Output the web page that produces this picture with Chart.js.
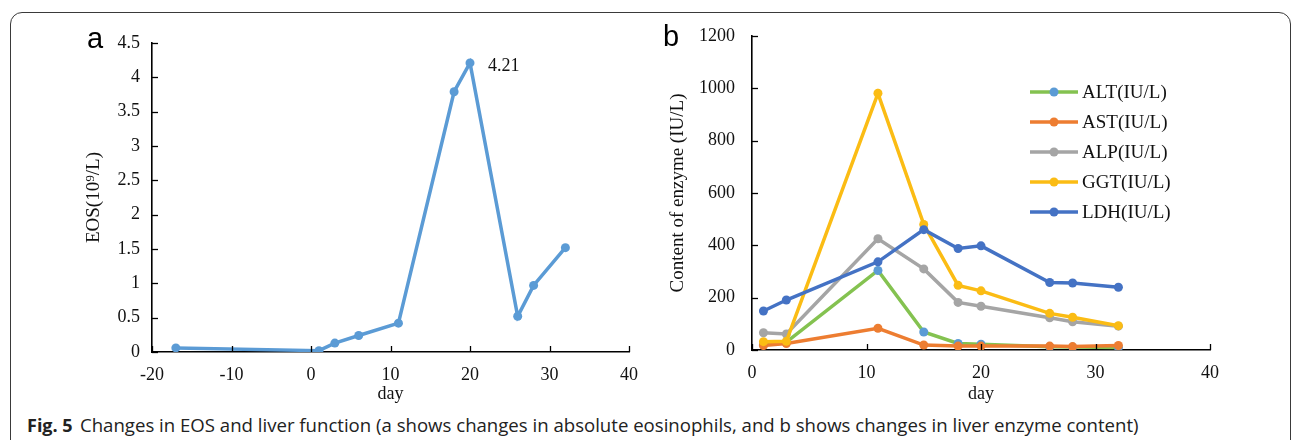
<!DOCTYPE html>
<html>
<head>
<meta charset="utf-8">
<script src="https://cdn.jsdelivr.net/npm/chart.js@4.4.0/dist/chart.umd.min.js"></script>
<style>
    body { margin: 0; background: #fff; width: 1293px; height: 440px; overflow: hidden; position: relative; }
    #frame { position: absolute; left: 10px; top: 12px; width: 1279px; height: 470px; border: 1px solid #3a3a3a; border-radius: 12px; }
    canvas { position: absolute; top: 0; }
    #grafA { left: 0; }
    #grafB { left: 650px; }
    .letra { position: absolute; font-family: 'Liberation Sans', sans-serif; font-size: 29px; line-height: 1; }
    #cap { position: absolute; left: 27px; top: 413px; white-space: nowrap; font-family: 'Liberation Sans Narrow', 'Open Sans', sans-serif; font-size: 18px; color: #222; }
    #cap b { margin-right: 7px; }
</style>
</head>
<body>
<div id="frame"></div>
<canvas id="grafA" width="650" height="410"></canvas>
<canvas id="grafB" width="643" height="410"></canvas>
<div class="letra" style="left:87px;top:24px">a</div>
<div class="letra" style="left:663px;top:22px">b</div>
<div id="cap"><b>Fig. 5</b><span id="capTxt">Changes in EOS and liver function (a shows changes in absolute eosinophils, and b shows changes in liver enzyme content)</span></div>

<script>
// panel a: eosinophils
const eosDias = [-17, 1, 3, 6, 11, 18, 20, 26, 28, 32];
const eosValores = [0.06, 0.02, 0.13, 0.24, 0.42, 3.79, 4.21, 0.52, 0.97, 1.52];
const eosTicksY = ['0', '0.5', '1', '1.5', '2', '2.5', '3', '3.5', '4', '4.5'];
const eosTicksX = ['-20', '-10', '0', '10', '20', '30', '40'];

// panel b: liver enzymes
const enzDias = [1, 3, 11, 15, 18, 20, 26, 28, 32];
const altValores = [20, 30, 304, 69, 25, 22, 12, 11, 10];
const astValores = [17, 25, 83, 19, 15, 15, 15, 13, 17];
const alpValores = [66, 61, 425, 310, 182, 167, 123, 108, 91];
const ggtValores = [32, 33, 981, 480, 247, 226, 140, 125, 93];
const ldhValores = [149, 191, 337, 460, 388, 398, 258, 256, 240];
const enzNombres = ['ALT(IU/L)', 'AST(IU/L)', 'ALP(IU/L)', 'GGT(IU/L)', 'LDH(IU/L)'];
const enzTicksY = ['0', '200', '400', '600', '800', '1000', '1200'];
const enzTicksX = ['0', '10', '20', '30', '40'];

const serif = 'Liberation Serif';

function puntos(xs, ys) {
    return xs.map((x, i) => ({ x: x, y: ys[i] }));
}

// Excel-style tick marks pointing into the plot
const ticksDentro = {
    id: 'ticksDentro',
    afterDraw(chart) {
        const ctx = chart.ctx;
        const area = chart.chartArea;
        ctx.save();
        ctx.strokeStyle = '#000';
        ctx.lineWidth = 1.3;
        const sx = chart.scales.x;
        sx.ticks.forEach(t => {
            const px = Math.round(sx.getPixelForValue(t.value)) + 0.5;
            ctx.beginPath();
            ctx.moveTo(px, area.bottom);
            ctx.lineTo(px, area.bottom - 6);
            ctx.stroke();
        });
        const sy = chart.scales.y;
        sy.ticks.forEach(t => {
            const py = Math.round(sy.getPixelForValue(t.value)) + 0.5;
            ctx.beginPath();
            ctx.moveTo(area.left, py);
            ctx.lineTo(area.left + 6, py);
            ctx.stroke();
        });
        ctx.restore();
    }
};

function ejes(minX, maxX, pasoX, ticksX, minY, maxY, pasoY, ticksY, tituloY, anchoY, altoX, padY) {
    return {
        x: {
            type: 'linear', min: minX, max: maxX,
            afterFit: s => { s.height = altoX; },
            grid: { display: false, drawTicks: false },
            border: { color: '#000', width: 1.6 },
            ticks: {
                stepSize: pasoX, padding: 12, color: '#111',
                font: { family: serif, size: 18 },
                callback: (v, i) => ticksX[i]
            },
            title: { display: true, text: 'day', color: '#111', font: { family: serif, size: 18 }, padding: { top: 0, bottom: 4 } }
        },
        y: {
            min: minY, max: maxY,
            afterFit: s => { s.width = anchoY; },
            grid: { display: false, drawTicks: false },
            border: { color: '#000', width: 1.6 },
            ticks: {
                stepSize: pasoY, padding: padY, color: '#111',
                font: { family: serif, size: 18 },
                callback: (v, i) => ticksY[i]
            },
            title: { display: true, text: tituloY, color: '#111', font: { family: serif, size: 19 }, padding: { top: 4, bottom: 0 } }
        }
    };
}

// label of the peak value
const etiquetaPico = {
    id: 'etiquetaPico',
    afterDatasetsDraw(chart) {
        const meta = chart.getDatasetMeta(0);
        let k = 0;
        eosValores.forEach((v, i) => { if (v > eosValores[k]) k = i; });
        const p = meta.data[k];
        const ctx = chart.ctx;
        ctx.save();
        ctx.font = '18px ' + serif;
        ctx.fillStyle = '#111';
        ctx.textBaseline = 'middle';
        ctx.fillText(eosValores[k].toFixed(2), p.x + 18, p.y + 3);
        ctx.restore();
    }
};

new Chart(document.getElementById('grafA').getContext('2d'), {
    type: 'line',
    data: {
        datasets: [{
            label: 'EOS',
            data: puntos(eosDias, eosValores),
            borderColor: '#5b9bd5',
            backgroundColor: '#5b9bd5',
            borderWidth: 3.5,
            pointRadius: 4.5,
            pointBorderWidth: 0,
            tension: 0
        }]
    },
    options: {
        responsive: false,
        animation: false,
        layout: { padding: { left: 79, top: 43, right: 18, bottom: 1 } },
        plugins: { legend: { display: false }, tooltip: { enabled: false } },
        scales: ejes(-20, 40, 10, eosTicksX, 0, 4.5, 0.5, eosTicksY, 'EOS(10⁹/L)', 73, 57, 12)
    },
    plugins: [ticksDentro, etiquetaPico]
});

// legend drawn inside the plot, like the Excel one
const leyendaDentro = {
    id: 'leyendaDentro',
    afterDraw(chart) {
        const ctx = chart.ctx;
        ctx.save();
        ctx.font = '19px ' + serif;
        ctx.textBaseline = 'middle';
        chart.data.datasets.forEach((ds, i) => {
            const y = 92 + i * 30;
            ctx.strokeStyle = ds.borderColor;
            ctx.lineWidth = 3.5;
            ctx.beginPath();
            ctx.moveTo(380, y);
            ctx.lineTo(428, y);
            ctx.stroke();
            ctx.fillStyle = ds.pointBackgroundColor;
            ctx.beginPath();
            ctx.arc(404, y, 4.5, 0, Math.PI * 2);
            ctx.fill();
            ctx.fillStyle = '#111';
            ctx.fillText(ds.label, 432, y + 1);
        });
        ctx.restore();
    }
};

const enzSeries = [altValores, astValores, alpValores, ggtValores, ldhValores];
const enzLineas = ['#84c250', '#ed7d31', '#a5a5a5', '#fbbc14', '#4472c4'];
const enzPuntos = ['#5b9bd5', '#ed7d31', '#a5a5a5', '#fbbc14', '#4472c4'];

new Chart(document.getElementById('grafB').getContext('2d'), {
    type: 'line',
    data: {
        datasets: enzSeries.map((serie, i) => ({
            label: enzNombres[i],
            data: puntos(enzDias, serie),
            borderColor: enzLineas[i],
            backgroundColor: enzPuntos[i],
            pointBackgroundColor: enzPuntos[i],
            borderWidth: 3.5,
            pointRadius: 4.5,
            pointBorderWidth: 0,
            tension: 0,
            order: 5 - i
        }))
    },
    options: {
        responsive: false,
        animation: false,
        layout: { padding: { left: 13, top: 36, right: 83, bottom: 1 } },
        plugins: { legend: { display: false }, tooltip: { enabled: false } },
        scales: ejes(0, 40, 10, enzTicksX, 0, 1200, 200, enzTicksY, 'Content of enzyme (IU/L)', 89, 59, 17)
    },
    plugins: [ticksDentro, leyendaDentro]
});

// fit caption text to the width it has in the figure
const capTxt = document.getElementById('capTxt');
const ancho = capTxt.getBoundingClientRect().width;
capTxt.style.display = 'inline-block';
capTxt.style.transformOrigin = 'left center';
capTxt.style.transform = 'scaleX(' + (1059 / ancho).toFixed(3) + ')';
</script>
</body>
</html>
